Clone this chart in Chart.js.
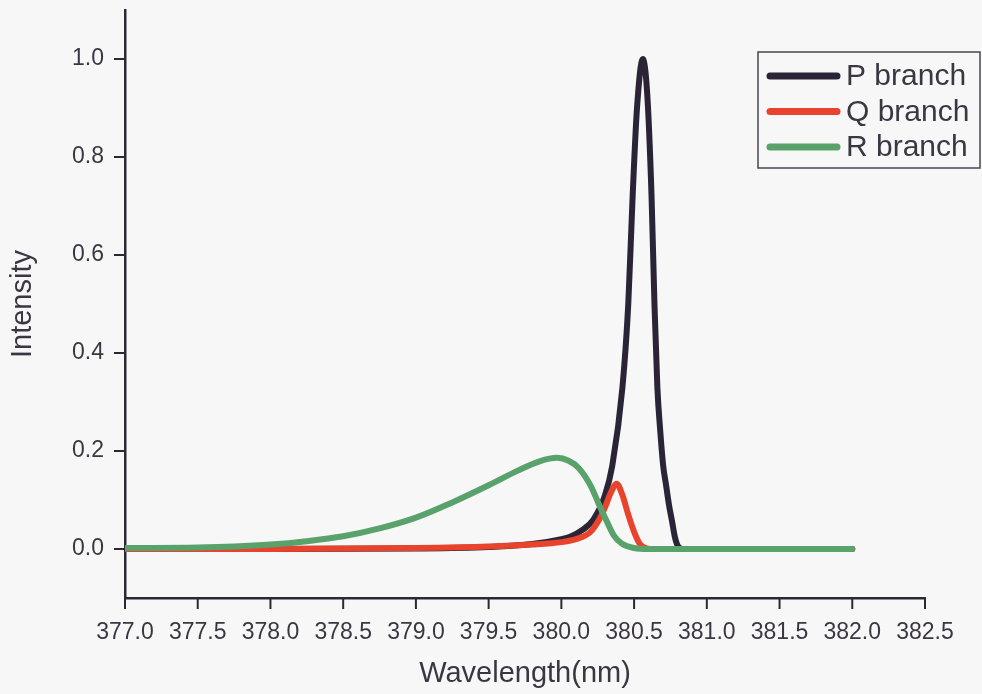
<!DOCTYPE html>
<html lang="en">
<head>
    <meta charset="UTF-8">
    <title>P, Q, R branch intensity</title>
    <script src="https://cdn.jsdelivr.net/npm/chart.js"></script>
    <style>
        body {
            margin: 0;
            padding: 0;
            background: #f7f7f7;
            overflow: hidden;
        }
        #wrap {
            width: 982px;
            height: 694px;
        }
    </style>
</head>
<body>
    <div id="wrap">
        <canvas id="branchChart" width="982" height="694"></canvas>
    </div>

    <script>
        // values
        const seriesNames = ['P branch', 'Q branch', 'R branch'];

        const pWavelength = [377.0, 378.0, 379.0, 379.5, 379.8, 380.0, 380.06, 380.15, 380.22, 380.3, 380.35,
            380.42, 380.46, 380.49, 380.52, 380.56, 380.59, 380.62, 380.64, 380.66, 380.68, 380.70, 380.72,
            380.74, 380.76, 380.78, 380.795, 380.81, 380.85, 381.0, 382.0];
        const pIntensity = [0, 0, 0.001, 0.004, 0.010, 0.020, 0.025, 0.040, 0.060, 0.110, 0.170,
            0.330, 0.500, 0.720, 0.900, 1.000, 0.930, 0.720, 0.500, 0.330, 0.240, 0.170, 0.130,
            0.090, 0.058, 0.025, 0.010, 0.003, 0, 0, 0];

        const qWavelength = [377.0, 378.0, 379.0, 379.5, 379.8, 380.0, 380.1, 380.2, 380.26, 380.3, 380.34,
            380.38, 380.42, 380.46, 380.5, 380.54, 380.58, 380.65, 381.0, 382.0];
        const qIntensity = [0, 0, 0.002, 0.005, 0.009, 0.014, 0.020, 0.035, 0.060, 0.085, 0.115,
            0.133, 0.110, 0.070, 0.035, 0.010, 0.002, 0, 0, 0];

        const rWavelength = [377.0, 377.5, 377.75, 378.0, 378.25, 378.5, 378.75, 379.0, 379.25, 379.5, 379.7,
            379.85, 379.97, 380.05, 380.12, 380.2, 380.26, 380.31, 380.36, 380.42, 380.5, 380.6, 381.0, 382.0];
        const rIntensity = [0.002, 0.003, 0.005, 0.009, 0.016, 0.026, 0.042, 0.064, 0.095, 0.130, 0.160,
            0.179, 0.186, 0.180, 0.165, 0.130, 0.090, 0.058, 0.028, 0.010, 0.002, 0, 0, 0];

        const seriesColors = ['#2b2436', '#e8432c', '#5aa26b'];

        const inkColor = '#2d2833';
        const textColor = '#3b3742';
        const fontFamily = '"Liberation Sans", Arial, sans-serif';

        function toPoints(xs, ys) {
            return xs.map((x, i) => ({ x: x, y: ys[i] }));
        }

        // background colour of the whole canvas
        const backgroundPlugin = {
            id: 'pageBackground',
            beforeDraw(chart) {
                const ctx = chart.ctx;
                ctx.save();
                ctx.fillStyle = '#f7f7f7';
                ctx.fillRect(0, 0, chart.width, chart.height);
                ctx.restore();
            }
        };

        // outward tick marks, long on labelled ticks and short on the others
        const tickMarkPlugin = {
            id: 'tickMarks',
            afterDraw(chart) {
                const ctx = chart.ctx;
                const xs = chart.scales.x;
                const ys = chart.scales.y;
                ctx.save();
                ctx.strokeStyle = inkColor;
                ctx.lineWidth = 2;
                xs.ticks.forEach(t => {
                    const px = xs.getPixelForValue(t.value);
                    const major = Math.round(t.value * 10) % 5 === 0;
                    ctx.beginPath();
                    ctx.moveTo(px, xs.top);
                    ctx.lineTo(px, xs.top + (major ? 11 : 5));
                    ctx.stroke();
                });
                ys.ticks.forEach(t => {
                    const py = ys.getPixelForValue(t.value);
                    const major = Math.round(t.value * 10) % 2 === 0;
                    ctx.beginPath();
                    ctx.moveTo(ys.right, py);
                    ctx.lineTo(ys.right - (major ? 11 : 6), py);
                    ctx.stroke();
                });
                ctx.restore();
            }
        };

        // boxed legend inside the plot, top right
        const boxLegendPlugin = {
            id: 'boxLegend',
            afterDraw(chart) {
                const ctx = chart.ctx;
                const left = 758, top = 52, width = 222, height = 116;
                ctx.save();
                ctx.strokeStyle = '#4a4550';
                ctx.lineWidth = 1.5;
                ctx.strokeRect(left, top, width, height);
                ctx.font = '30px ' + fontFamily;
                ctx.textBaseline = 'middle';
                ctx.fillStyle = textColor;
                chart.data.datasets.forEach((ds, i) => {
                    const y = 76 + i * 35.5;
                    ctx.strokeStyle = ds.borderColor;
                    ctx.lineWidth = 7;
                    ctx.lineCap = 'round';
                    ctx.beginPath();
                    ctx.moveTo(770, y);
                    ctx.lineTo(837, y);
                    ctx.stroke();
                    ctx.fillText(ds.label, 846, y + 1);
                });
                ctx.restore();
            }
        };

        const ctx = document.getElementById('branchChart').getContext('2d');
        new Chart(ctx, {
            type: 'line',
            data: {
                datasets: [
                    {
                        label: seriesNames[0],
                        data: toPoints(pWavelength, pIntensity),
                        borderColor: seriesColors[0],
                        order: 2
                    },
                    {
                        label: seriesNames[1],
                        data: toPoints(qWavelength, qIntensity),
                        borderColor: seriesColors[1],
                        order: 1
                    },
                    {
                        label: seriesNames[2],
                        data: toPoints(rWavelength, rIntensity),
                        borderColor: seriesColors[2],
                        order: 0
                    }
                ]
            },
            options: {
                responsive: false,
                devicePixelRatio: 1,
                animation: false,
                layout: {
                    padding: { top: 10, right: 57, left: 0, bottom: 0 }
                },
                elements: {
                    point: { radius: 0 },
                    line: {
                        borderWidth: 6,
                        fill: false,
                        cubicInterpolationMode: 'monotone',
                        borderCapStyle: 'round',
                        borderJoinStyle: 'round'
                    }
                },
                plugins: {
                    legend: { display: false },
                    tooltip: { enabled: false }
                },
                scales: {
                    x: {
                        type: 'linear',
                        min: 377.0,
                        max: 382.5,
                        afterFit(scale) {
                            scale.height = 96;
                            scale.paddingLeft = 0;
                            scale.paddingRight = 0;
                        },
                        border: { display: true, color: inkColor, width: 2.5 },
                        grid: {
                            drawOnChartArea: false,
                            drawTicks: true,
                            tickLength: 10,
                            tickColor: 'rgba(0,0,0,0)'
                        },
                        ticks: {
                            stepSize: 0.1,
                            autoSkip: false,
                            maxRotation: 0,
                            padding: 11,
                            color: textColor,
                            font: { family: fontFamily, size: 23 },
                            callback: v => (Math.round(v * 10) % 5 === 0 ? v.toFixed(1) : null)
                        },
                        title: {
                            display: true,
                            text: 'Wavelength(nm)',
                            color: textColor,
                            font: { family: fontFamily, size: 29 },
                            padding: { top: 0, bottom: 3 }
                        }
                    },
                    y: {
                        min: -0.1,
                        max: 1.1,
                        afterFit(scale) {
                            scale.width = 125;
                            scale.paddingTop = 0;
                            scale.paddingBottom = 0;
                        },
                        border: { display: true, color: inkColor, width: 2.5 },
                        grid: {
                            drawOnChartArea: false,
                            drawTicks: true,
                            tickLength: 10,
                            tickColor: 'rgba(0,0,0,0)'
                        },
                        ticks: {
                            stepSize: 0.1,
                            autoSkip: false,
                            padding: 11,
                            color: textColor,
                            font: { family: fontFamily, size: 23 },
                            callback: v => {
                                const k = Math.round(v * 10);
                                return (k % 2 === 0 && k >= 0 && k <= 10) ? v.toFixed(1) : null;
                            }
                        },
                        title: {
                            display: true,
                            text: 'Intensity',
                            color: textColor,
                            font: { family: fontFamily, size: 29 },
                            padding: { top: 6, bottom: 0 }
                        }
                    }
                }
            },
            plugins: [backgroundPlugin, tickMarkPlugin, boxLegendPlugin]
        });
    </script>
</body>
</html>
